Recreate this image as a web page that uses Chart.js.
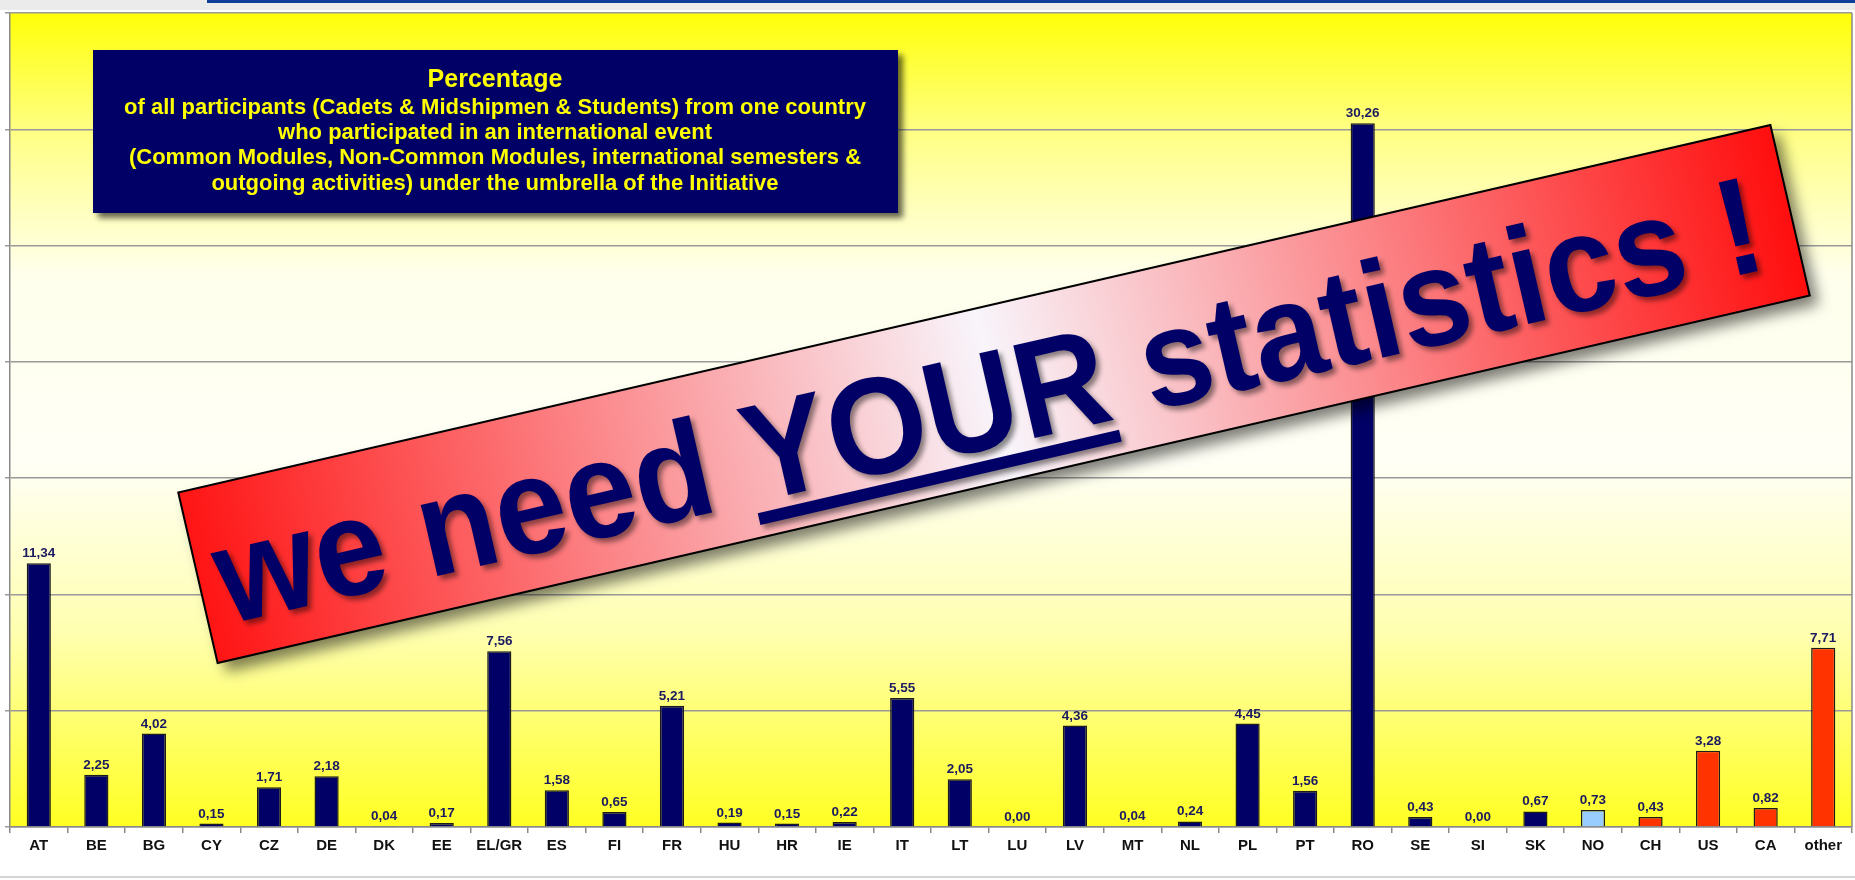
<!DOCTYPE html>
<html>
<head>
<meta charset="utf-8">
<title>Percentage of participants</title>
<script src="https://cdn.jsdelivr.net/npm/chart.js@4.4.0/dist/chart.umd.min.js"></script>
<style>
	body { margin: 0; background: #fff; overflow: hidden; }
	#topstrip { position: absolute; left: 0; top: 0; width: 1855px; height: 10px; background: #ebebeb; }
	#topblue { position: absolute; left: 207px; top: 0; width: 1648px; height: 3px; background: #0d3f98; }
	#bottomline { position: absolute; left: 0; top: 876px; width: 1855px; height: 2px; background: #d4d4d4; }
	#mycanvas { position: absolute; left: 0; top: 0; }
</style>
</head>
<body>
<div id="topstrip"></div>
<div id="topblue"></div>
<div id="bottomline"></div>
<canvas id="mycanvas" width="1855" height="880"></canvas>
<script>
var countries = ['AT','BE','BG','CY','CZ','DE','DK','EE','EL/GR','ES','FI','FR','HU','HR','IE','IT','LT','LU','LV','MT','NL','PL','PT','RO','SE','SI','SK','NO','CH','US','CA','other'];
var percentages = [11.34, 2.25, 4.02, 0.15, 1.71, 2.18, 0.04, 0.17, 7.56, 1.58, 0.65, 5.21, 0.19, 0.15, 0.22, 5.55, 2.05, 0.00, 4.36, 0.04, 0.24, 4.45, 1.56, 30.26, 0.43, 0.00, 0.67, 0.73, 0.43, 3.28, 0.82, 7.71];
// which group each country belongs to: eu member, associated, non-european
var groups = ['eu','eu','eu','eu','eu','eu','eu','eu','eu','eu','eu','eu','eu','eu','eu','eu','eu','eu','eu','eu','eu','eu','eu','eu','eu','eu','eu','assoc','third','third','third','third'];
var yTicks = [0, 5, 10, 15, 20, 25, 30, 35];

var titleLines = [
	'of all participants (Cadets & Midshipmen & Students) from one country',
	'who participated in an international event',
	'(Common Modules, Non-Common Modules, international semesters &',
	'outgoing activities) under the umbrella of the Initiative'
];

var groupColors = { eu: '#000066', assoc: '#99ccff', third: '#ff3300' };
var barColors = [];
for (var i in groups) {
	barColors.push(groupColors[groups[i]]);
}

var FONT = '"Liberation Sans", Arial, sans-serif';

// yellow gradient behind the plot
var plotBackground = {
	id: 'plotBackground',
	beforeDraw: function(chart) {
		var ctx = chart.ctx, a = chart.chartArea;
		var g = ctx.createLinearGradient(0, a.top, 0, a.bottom);
		g.addColorStop(0, '#ffff08');
		g.addColorStop(0.14, '#ffff80');
		g.addColorStop(0.32, '#ffffec');
		g.addColorStop(0.55, '#fffff6');
		g.addColorStop(0.76, '#ffffb0');
		g.addColorStop(1, '#ffff22');
		ctx.save();
		ctx.fillStyle = g;
		ctx.fillRect(a.left, a.top, a.right - a.left, a.bottom - a.top);
		ctx.restore();
	}
};

// numbers on top of the bars
var valueLabels = {
	id: 'valueLabels',
	afterDatasetsDraw: function(chart) {
		var ctx = chart.ctx;
		var meta = chart.getDatasetMeta(0);
		ctx.save();
		ctx.font = 'bold 13.5px ' + FONT;
		ctx.fillStyle = '#1a1a60';
		ctx.textAlign = 'center';
		ctx.textBaseline = 'alphabetic';
		meta.data.forEach(function(bar, i) {
			ctx.fillText(percentages[i].toFixed(2).replace('.', ','), bar.x, bar.y - 6);
		});
		ctx.restore();
	}
};

var overlays = {
	id: 'overlays',
	afterDraw: function(chart) {
		var ctx = chart.ctx, a = chart.chartArea;

		// right border of the plot
		ctx.save();
		ctx.strokeStyle = '#8a8a8a';
		ctx.lineWidth = 1.5;
		ctx.beginPath();
		ctx.moveTo(a.right, a.top);
		ctx.lineTo(a.right, a.bottom);
		ctx.stroke();
		ctx.restore();

		// title box
		ctx.save();
		ctx.shadowColor = 'rgba(0,0,0,0.6)';
		ctx.shadowBlur = 6;
		ctx.shadowOffsetX = 5;
		ctx.shadowOffsetY = 5;
		ctx.fillStyle = '#000066';
		ctx.fillRect(93, 50, 805, 163);
		ctx.restore();

		ctx.save();
		ctx.fillStyle = '#ffff00';
		ctx.textAlign = 'center';
		ctx.textBaseline = 'middle';
		ctx.font = 'bold 25px ' + FONT;
		ctx.fillText('Percentage', 495, 80);
		ctx.font = 'bold 22px ' + FONT;
		var ys = [108, 132.5, 157.5, 183.5];
		for (var i = 0; i < titleLines.length; i++) {
			ctx.fillText(titleLines[i], 495, ys[i]);
		}
		ctx.restore();

		// the tilted banner
		var w = 1634, h = 175;
		ctx.save();
		ctx.translate(994, 394);
		ctx.rotate(-13 * Math.PI / 180);
		var g = ctx.createLinearGradient(-w / 2, 0, w / 2, 0);
		g.addColorStop(0, '#ff1414');
		g.addColorStop(0.5, '#f8f5fb');
		g.addColorStop(1, '#ff0e0e');
		ctx.save();
		ctx.shadowColor = 'rgba(0,0,0,0.5)';
		ctx.shadowBlur = 14;
		ctx.shadowOffsetX = 9;
		ctx.shadowOffsetY = 9;
		ctx.fillStyle = g;
		ctx.fillRect(-w / 2, -h / 2, w, h);
		ctx.restore();
		ctx.strokeStyle = '#000';
		ctx.lineWidth = 2;
		ctx.strokeRect(-w / 2, -h / 2, w, h);

		ctx.save();
		ctx.scale(0.93, 1);
		ctx.font = 'bold 138px ' + FONT;
		var pre = 'we need ', word = 'YOUR', post = ' statistics !';
		var wPre = ctx.measureText(pre).width;
		var wWord = ctx.measureText(word).width;
		var wAll = ctx.measureText(pre + word + post).width;
		var x0 = -wAll / 2 - 8, base = 52;
		ctx.shadowColor = 'rgba(0,0,0,0.45)';
		ctx.shadowBlur = 5;
		ctx.shadowOffsetX = 4;
		ctx.shadowOffsetY = 4;
		ctx.fillStyle = '#000066';
		ctx.textAlign = 'left';
		ctx.textBaseline = 'alphabetic';
		ctx.fillText(pre + word + post, x0, base);
		ctx.fillRect(x0 + wPre, base + 11, wWord, 12);
		ctx.restore();
		ctx.restore();
	}
};

var ctx = document.getElementById('mycanvas');

var barGraph = new Chart(ctx, {
	type: 'bar',
	data: {
		labels: countries,
		datasets: [
			{
				label: 'Percentage',
				data: percentages,
				backgroundColor: barColors,
				borderColor: '#1c1c1c',
				borderWidth: 1.5,
				categoryPercentage: 1,
				barPercentage: 0.42
			}
		]
	},
	options: {
		responsive: false,
		animation: false,
		devicePixelRatio: 1,
		layout: { padding: { left: 5, right: 3, top: 13, bottom: 21 } },
		plugins: {
			legend: { display: false },
			tooltip: { enabled: false }
		},
		scales: {
			x: {
				grid: { display: true, drawOnChartArea: false, drawTicks: true, tickLength: 6, color: '#8a8a8a', lineWidth: 1.5 },
				border: { display: true, color: '#8a8a8a', width: 1.5 },
				ticks: { color: '#111', padding: 4, font: { family: FONT, size: 15, weight: 'bold' } }
			},
			y: {
				min: yTicks[0],
				max: yTicks[yTicks.length - 1],
				afterBuildTicks: function(scale) {
					scale.ticks = yTicks.map(function(v) { return { value: v }; });
				},
				ticks: { display: false },
				grid: { color: '#9a9a9a', lineWidth: 1.5, tickLength: 5, drawTicks: true },
				border: { display: true, color: '#8a8a8a', width: 1.5 }
			}
		}
	},
	plugins: [plotBackground, valueLabels, overlays]
});
</script>
</body>
</html>
